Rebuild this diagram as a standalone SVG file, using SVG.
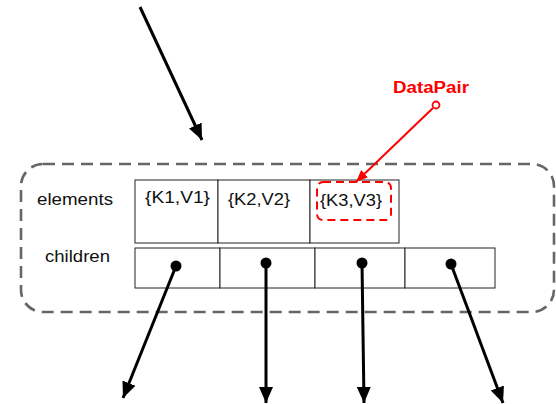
<svg xmlns="http://www.w3.org/2000/svg" width="556" height="404" viewBox="0 0 556 404">
<defs>
<style>
.txt{font-family:"Liberation Sans",Arial,sans-serif;font-size:17px;fill:#111}
.red{font-family:"Liberation Sans",Arial,sans-serif;font-size:16px;font-weight:bold;fill:#f00}
.cell{fill:#fff;stroke:#222;stroke-width:1}
.conn{stroke:#000;stroke-width:3;fill:none}
.dot{fill:#000}
</style>
<marker id="ah" markerUnits="userSpaceOnUse" markerWidth="17" markerHeight="14" refX="16" refY="7" orient="auto">
<path d="M0,0 L16,7 L0,14 z" fill="#000"/>
</marker>
<marker id="ahr" markerUnits="userSpaceOnUse" markerWidth="13" markerHeight="10" refX="12" refY="5" orient="auto">
<path d="M0,0 L12,5 L0,10 z" fill="#f00"/>
</marker>
</defs>
<rect id="container" x="21" y="164" width="533" height="148" rx="22" ry="22" fill="none" stroke="#666" stroke-width="2.6" stroke-dasharray="12,7"/>
<g id="labels">
<text class="txt" x="37" y="205" textLength="76" lengthAdjust="spacingAndGlyphs">elements</text>
<text class="txt" x="45" y="262" textLength="65" lengthAdjust="spacingAndGlyphs">children</text>
</g>
<g id="elements">
<rect class="cell" x="135" y="180" width="83" height="63"/>
<rect class="cell" x="218" y="180" width="92" height="63"/>
<rect class="cell" x="310" y="180" width="89" height="63"/>
<text class="txt" x="145" y="203" textLength="65" lengthAdjust="spacingAndGlyphs">{K1,V1}</text>
<text class="txt" x="228" y="205" textLength="62" lengthAdjust="spacingAndGlyphs">{K2,V2}</text>
<text class="txt" x="320" y="206" textLength="62" lengthAdjust="spacingAndGlyphs">{K3,V3}</text>
<rect x="317" y="182" width="74" height="38" rx="6" ry="6" fill="none" stroke="#f00" stroke-width="2" stroke-dasharray="8,5"/>
</g>
<g id="children">
<rect class="cell" x="135" y="248" width="85" height="40"/>
<rect class="cell" x="220" y="248" width="95" height="40"/>
<rect class="cell" x="315" y="248" width="90" height="40"/>
<rect class="cell" x="405" y="248" width="90" height="40"/>
</g>
<g id="datapair">
<text class="red" x="393" y="93" textLength="76" lengthAdjust="spacingAndGlyphs">DataPair</text>
</g>
<g id="connectors">
<line class="conn" x1="140" y1="7" x2="202" y2="140" marker-end="url(#ah)"/>
<line class="conn" x1="176" y1="266" x2="123" y2="398" marker-end="url(#ah)"/>
<line class="conn" x1="266" y1="263" x2="266" y2="403" marker-end="url(#ah)"/>
<line class="conn" x1="362" y1="263" x2="364" y2="403" marker-end="url(#ah)"/>
<line class="conn" x1="451" y1="264" x2="503" y2="403" marker-end="url(#ah)"/>
<line x1="433" y1="108" x2="356" y2="182" stroke="#f00" stroke-width="2" marker-end="url(#ahr)"/>
<circle cx="436" cy="105" r="3.5" fill="#fff" stroke="#f00" stroke-width="1.8"/>
<circle class="dot" cx="176" cy="266" r="5.5"/>
<circle class="dot" cx="266" cy="263" r="5.5"/>
<circle class="dot" cx="362" cy="263" r="5.5"/>
<circle class="dot" cx="451" cy="264" r="5.5"/>
</g>
</svg>
